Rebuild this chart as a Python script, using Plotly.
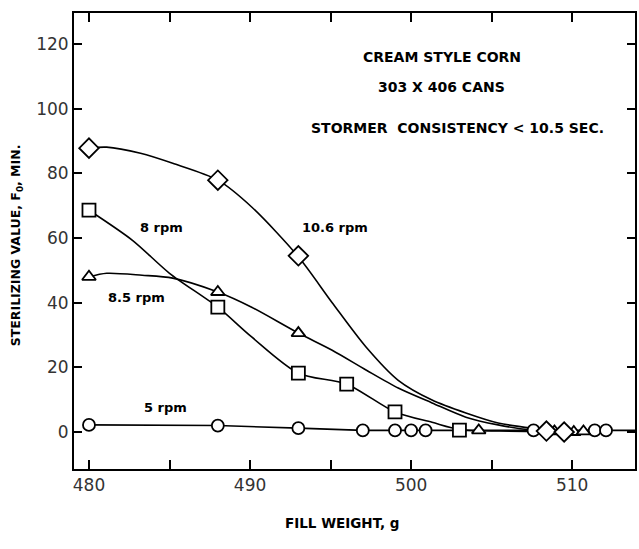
import plotly.graph_objects as go

# ---- marker data ----
rpm106_x = [480.0, 488.0, 493.0, 508.4, 509.5]
rpm106_y = [87.8, 77.9, 54.5, 0.3, 0.0]

rpm8_x = [480.0, 488.0, 493.0, 496.0, 499.0, 503.0]
rpm8_y = [68.6, 38.6, 18.2, 14.8, 6.2, 0.6]

rpm85_x = [480.0, 488.0, 493.0, 504.2, 508.9, 510.1, 510.7]
rpm85_y = [48.0, 43.3, 30.6, 0.5, 0.2, 0.0, 0.2]

rpm5_x = [480.0, 488.0, 493.0, 497.0, 499.0, 500.0, 500.9, 507.6, 511.4, 512.1]
rpm5_y = [2.2, 2.0, 1.2, 0.5, 0.5, 0.5, 0.5, 0.5, 0.5, 0.5]

# ---- fitted curves ----
c106_x = [480.0, 481.1, 483.2, 485.2, 488.0, 490.1, 493.0, 495.1, 497.2, 499.2, 501.3, 503.4, 505.4, 507.5, 509.5]
c106_y = [87.8, 88.1, 86.2, 83.1, 77.9, 69.6, 54.2, 40.0, 26.3, 16.0, 9.9, 5.9, 2.8, 1.2, 0.3]

c85_x = [480.0, 481.1, 483.3, 485.2, 488.0, 490.1, 493.0, 495.1, 497.2, 499.2, 501.3, 503.4, 505.4, 507.5, 509.0]
c85_y = [48.0, 49.1, 48.5, 47.6, 43.3, 38.6, 30.6, 25.3, 19.2, 13.6, 9.0, 4.6, 2.2, 0.6, 0.2]

c8_x = [480.0, 482.7, 485.0, 488.0, 490.1, 493.0, 496.0, 499.0, 501.3, 503.0, 505.5, 507.6]
c8_y = [68.6, 59.3, 49.1, 38.6, 29.4, 18.2, 14.8, 6.2, 3.0, 0.8, 0.3, 0.2]

c5_x = [480.0, 488.0, 493.0, 497.0, 501.0, 507.6, 514.0]
c5_y = [2.2, 2.0, 1.2, 0.5, 0.5, 0.5, 0.5]

x_tickvals = [480, 490, 500, 510]
x_ticktext = ["480", "490", "500", "510"]
x_minorvals = [485, 495, 505, 515]
y_tickvals = [0, 20, 40, 60, 80, 100, 120]
y_ticktext = ["0", "20", "40", "60", "80", "100", "120"]

W, H = 639, 549
L, R, T, B = 74, 2, 13, 80
PW, PH = W - L - R, H - T - B
FONT = "DejaVu Sans"


def px2paper(px, py):
    return (px - L) / PW, (H - B - py) / PH


fig = go.Figure()

for cx, cy, shape in [(c106_x, c106_y, "spline"), (c85_x, c85_y, "spline"),
                      (c8_x, c8_y, "spline"), (c5_x, c5_y, "linear")]:
    fig.add_trace(go.Scatter(x=cx, y=cy, mode="lines",
                             line=dict(color="black", width=1.6, shape=shape, smoothing=0.8),
                             hoverinfo="skip", showlegend=False))

mk = dict(color="white", line=dict(color="black", width=1.8))
fig.add_trace(go.Scatter(x=rpm5_x, y=rpm5_y, mode="markers", showlegend=False,
                         marker=dict(symbol="circle", size=12, **mk)))
fig.add_trace(go.Scatter(x=rpm85_x, y=rpm85_y, mode="markers", showlegend=False,
                         marker=dict(symbol="triangle-up", size=12, **mk)))
fig.add_trace(go.Scatter(x=rpm8_x, y=rpm8_y, mode="markers", showlegend=False,
                         marker=dict(symbol="square", size=13, **mk)))
fig.add_trace(go.Scatter(x=rpm106_x, y=rpm106_y, mode="markers", showlegend=False,
                         marker=dict(symbol="diamond", size=15, **mk)))

annots = [
    ("CREAM STYLE CORN", 443, 57, 14),
    ("303 X 406 CANS", 443, 87, 14),
    ("STORMER  CONSISTENCY < 10.5 SEC.", 459, 128, 14),
    ("8 rpm", 162, 228, 13),
    ("10.6 rpm", 336, 228, 13),
    ("8.5 rpm", 137, 297, 13),
    ("5 rpm", 166, 407, 13),
]
for text, px, py, sz in annots:
    ax, ay = px2paper(px, py)
    fig.add_annotation(text=text, x=ax, y=ay, xref="paper", yref="paper",
                       showarrow=False, xanchor="center", yanchor="middle",
                       font=dict(family=FONT, size=sz, color="black", weight="bold"))

ax, ay = px2paper(343, 523)
fig.add_annotation(text="FILL WEIGHT, g", x=ax, y=ay, xref="paper", yref="paper",
                   showarrow=False, xanchor="center", yanchor="middle",
                   font=dict(family=FONT, size=13.5, color="black", weight="bold"))
ax, ay = px2paper(16, 245)
fig.add_annotation(text="STERILIZING VALUE, F<sub>0</sub>, MIN.", x=ax, y=ay,
                   xref="paper", yref="paper", showarrow=False, textangle=-90,
                   xanchor="center", yanchor="middle",
                   font=dict(family=FONT, size=12.5, color="black", weight="bold"))

fig.update_layout(
    width=W, height=H,
    margin=dict(l=L, r=R, t=T, b=B),
    paper_bgcolor="white", plot_bgcolor="white",
    font=dict(family=FONT, color="#222"),
)
fig.update_xaxes(range=[479.07, 513.9], tickvals=x_tickvals, ticktext=x_ticktext,
                 ticks="inside", ticklen=9, tickwidth=1.6, tickcolor="black",
                 minor=dict(tickvals=x_minorvals, ticks="inside", ticklen=9, tickwidth=1.6,
                            tickcolor="black", showgrid=False),
                 showline=True, linecolor="black", linewidth=2, mirror="ticks",
                 showgrid=False, zeroline=False, tickfont=dict(family=FONT, size=17, color="#333"))
fig.update_yaxes(range=[-11.44, 129.6], tickvals=y_tickvals, ticktext=y_ticktext,
                 ticks="inside", ticklen=8, tickwidth=1.6, tickcolor="black",
                 showline=True, linecolor="black", linewidth=2, mirror="ticks",
                 showgrid=False, zeroline=False, tickfont=dict(family=FONT, size=17, color="#333"))

fig.write_html("out.html")
